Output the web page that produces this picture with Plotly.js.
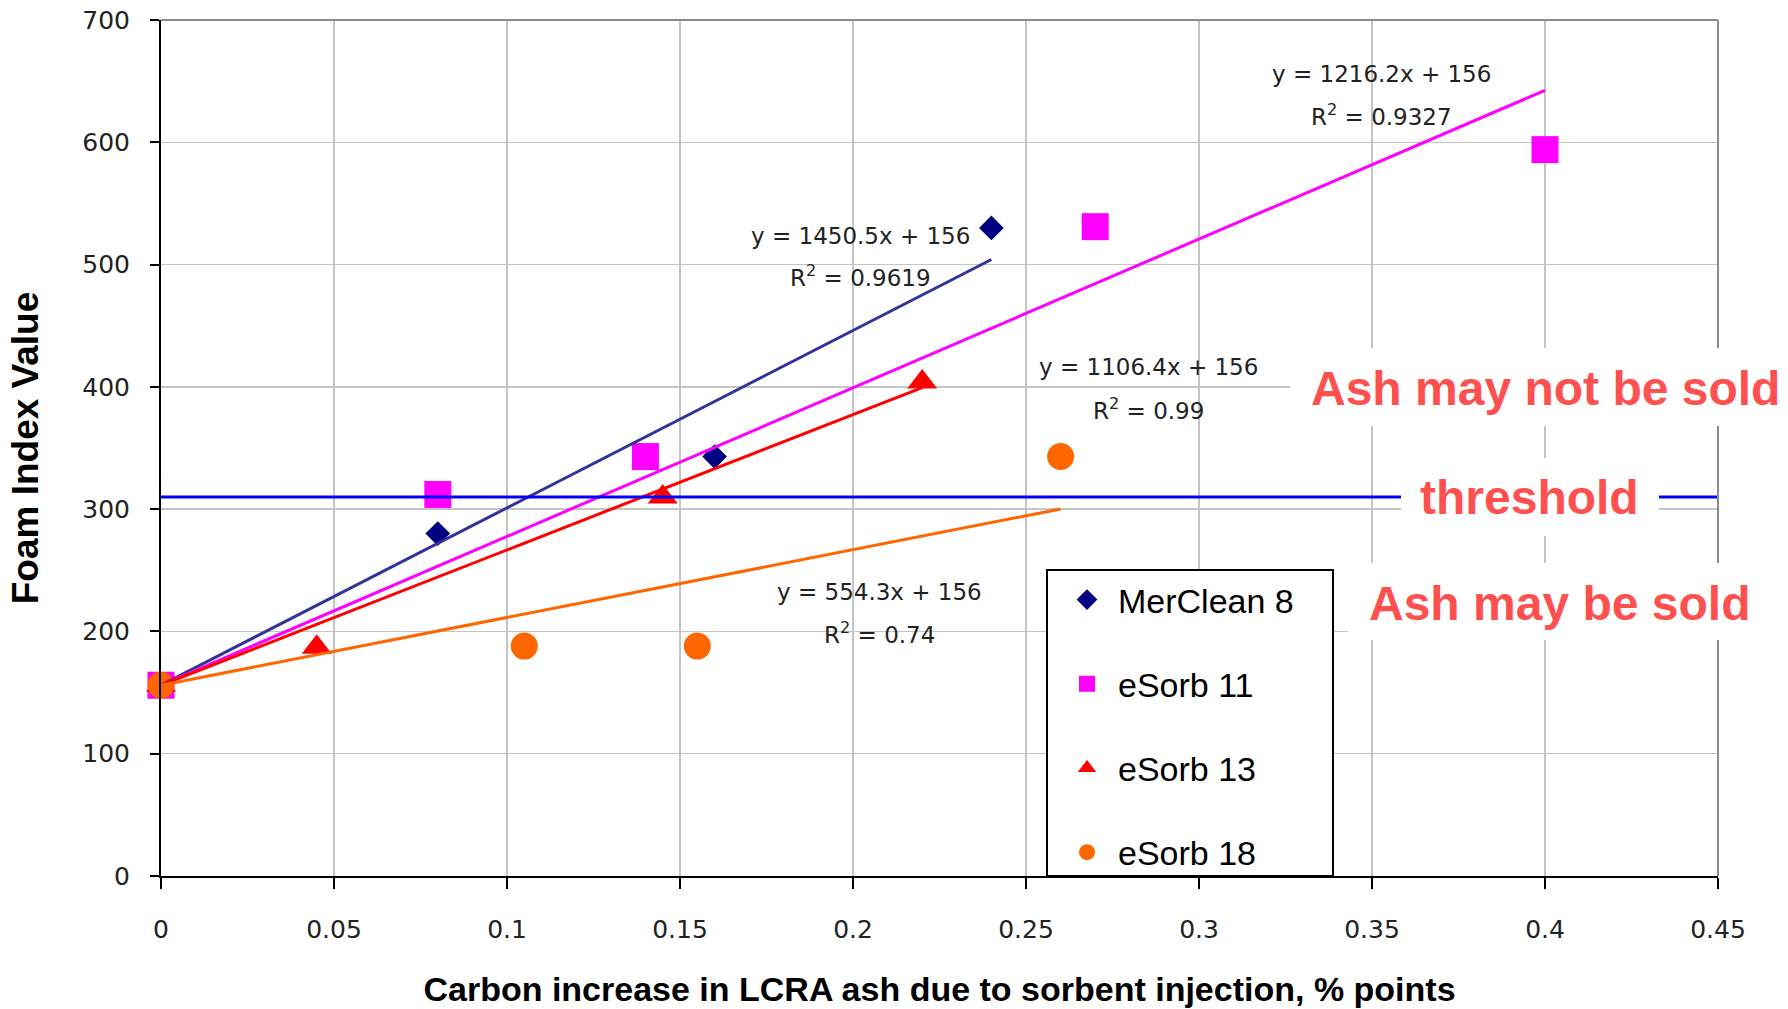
<!DOCTYPE html>
<html><head><meta charset="utf-8">
<script src="https://cdn.plot.ly/plotly-3.0.1.min.js"></script>
<style>html,body{margin:0;padding:0;background:#fff;} #chart{width:1788px;height:1009px;}</style>
</head><body><div id="chart"></div>
<script>
// ---- data ----
const seriesNames = ['MerClean 8', 'eSorb 11', 'eSorb 13', 'eSorb 18'];
const merCleanX = [0, 0.08, 0.16, 0.24];
const merCleanY = [156, 280, 343, 530];
const eSorb11X = [0, 0.08, 0.14, 0.27, 0.40];
const eSorb11Y = [156, 312, 343, 531, 594];
const eSorb13X = [0, 0.045, 0.145, 0.22];
const eSorb13Y = [156, 187, 310, 404];
const eSorb18X = [0, 0.105, 0.155, 0.26];
const eSorb18Y = [156, 188, 188, 343];
// linear trendlines (as printed on the chart)
const trendSlope = [1450.5, 1216.2, 1106.4, 554.3];
const trendIntercept = [156, 156, 156, 156];
const trendR2 = ['0.9619', '0.9327', '0.99', '0.74'];
const trendXStart = [0, 0, 0, 0];
const trendXEnd = [0.24, 0.40, 0.22, 0.26];
// threshold
const thresholdX = [0, 0.45];
const thresholdY = [310, 310];
const xTicks = [0, 0.05, 0.1, 0.15, 0.2, 0.25, 0.3, 0.35, 0.4, 0.45];
const yTicks = [0, 100, 200, 300, 400, 500, 600, 700];

// ---- styles ----
const markerColors = ['#000080', '#FF00FF', '#FF0000', '#FF6600'];
const lineColors = ['#333399', '#FF00FF', '#FF0000', '#FF6600'];
const symbols = ['diamond', 'square', 'triangle-up', 'circle'];
const sizes = [19, 27, 26, 27];
const seriesX = [merCleanX, eSorb11X, eSorb13X, eSorb18X];
const seriesY = [merCleanY, eSorb11Y, eSorb13Y, eSorb18Y];

const traces = [];
for (let i = 0; i < 4; i++) {
  traces.push({
    type: 'scatter', mode: 'markers', name: seriesNames[i],
    x: seriesX[i], y: seriesY[i], legendgroup: 'g' + i,
    marker: {symbol: symbols[i], size: sizes[i], color: markerColors[i], line: {width: 0}},
    cliponaxis: false, hoverinfo: 'x+y'
  });
}
for (let i = 0; i < 4; i++) {
  const xs = [trendXStart[i], trendXEnd[i]];
  traces.push({
    type: 'scatter', mode: 'lines', showlegend: false, legendgroup: 'g' + i,
    x: xs, y: xs.map(v => trendSlope[i] * v + trendIntercept[i]),
    line: {color: lineColors[i], width: 3}, hoverinfo: 'skip'
  });
}
traces.push({
  type: 'scatter', mode: 'lines', showlegend: false, legendgroup: 'thr',
  x: thresholdX, y: thresholdY, line: {color: '#0000FF', width: 3}, hoverinfo: 'skip'
});

// equation labels
const eqPos = [[0.2023, 523, 491], [0.3528, 656, 622], [0.2855, 416, 382], [0.2078, 232.5, 199]];
const annotations = [];
const eqFont = {family: 'DejaVu Sans', size: 23, color: '#222'};
for (let i = 0; i < 4; i++) {
  annotations.push({xref: 'x', yref: 'y', x: eqPos[i][0], y: eqPos[i][1], showarrow: false,
    xanchor: 'center', yanchor: 'middle',
    text: 'y = ' + trendSlope[i] + 'x + ' + trendIntercept[i], font: eqFont});
  annotations.push({xref: 'x', yref: 'y', x: eqPos[i][0], y: eqPos[i][2], showarrow: false,
    xanchor: 'center', yanchor: 'middle',
    text: 'R<sup>2</sup> = ' + trendR2[i], font: eqFont});
}
const redFont = {family: 'Liberation Sans, Arial, sans-serif', size: 48, color: '#FF5050', weight: 'bold'};
// pixel helpers for paper coords
const L = 161, R = 1718, T = 20, B = 876;
const px = v => (v - L) / (R - L);
const py = v => (B - v) / (B - T);
annotations.push({xref: 'paper', yref: 'paper', x: px(1545), y: py(388), showarrow: false,
  xanchor: 'center', yanchor: 'middle', text: '<b>Ash may not be sold</b>', font: redFont});
annotations.push({xref: 'paper', yref: 'paper', x: px(1529), y: py(498), showarrow: false,
  xanchor: 'center', yanchor: 'middle', text: '<b>threshold</b>', font: redFont});
annotations.push({xref: 'paper', yref: 'paper', x: px(1559), y: py(603), showarrow: false,
  xanchor: 'center', yanchor: 'middle', text: '<b>Ash may be sold</b>', font: redFont});

const shapes = [
  // top and right plot border
  {type: 'line', xref: 'paper', yref: 'paper', x0: 0, x1: 1, y0: 1, y1: 1, line: {color: '#8c8c8c', width: 2}, layer: 'above'},
  {type: 'line', xref: 'paper', yref: 'paper', x0: 1, x1: 1, y0: 0, y1: 1, line: {color: '#8c8c8c', width: 2}, layer: 'above'},
  // white boxes behind the red notes
  {type: 'rect', xref: 'paper', yref: 'paper', x0: px(1290), x1: px(1800), y0: py(426), y1: py(348), fillcolor: '#fff', line: {width: 0}, layer: 'above'},
  {type: 'rect', xref: 'paper', yref: 'paper', x0: px(1401), x1: px(1659), y0: py(536), y1: py(458), fillcolor: '#fff', line: {width: 0}, layer: 'above'},
  {type: 'rect', xref: 'paper', yref: 'paper', x0: px(1348), x1: px(1800), y0: py(640), y1: py(563), fillcolor: '#fff', line: {width: 0}, layer: 'above'},
  // legend frame
  {type: 'rect', xref: 'paper', yref: 'paper', x0: px(1047), x1: px(1333), y0: py(876), y1: py(570), fillcolor: '#fff', line: {color: '#000', width: 2}, layer: 'above'}
];

const tickFont = {family: 'DejaVu Sans', size: 25, color: '#222'};
const layout = {
  width: 1788, height: 1009,
  margin: {l: L, r: 1788 - R, t: T, b: 1009 - B, pad: 0},
  paper_bgcolor: '#fff', plot_bgcolor: '#fff',
  showlegend: true,
  legend: {x: px(1056), y: py(571), xanchor: 'left', yanchor: 'top', bgcolor: 'rgba(0,0,0,0)',
    borderwidth: 0, traceorder: 'grouped', tracegroupgap: 37, itemwidth: 52,
    font: {family: 'Liberation Sans, Arial, sans-serif', size: 34, color: '#000'}},
  xaxis: {range: [0, 0.45], tickvals: xTicks, ticktext: xTicks.map(String), showgrid: true, gridcolor: '#c4c4c4', gridwidth: 1.5,
    zeroline: false, showline: true, linecolor: '#000', linewidth: 2, ticks: 'outside', ticklen: 11, tickcolor: '#000', tickwidth: 2,
    tickfont: tickFont, ticklabelstandoff: 19, automargin: false,
    title: {text: '<b>Carbon increase in LCRA ash due to sorbent injection, % points</b>', standoff: 34,
      font: {family: 'Liberation Sans, Arial, sans-serif', size: 34, color: '#000'}}},
  yaxis: {range: [0, 700], tickvals: yTicks, ticktext: yTicks.map(String), showgrid: true, gridcolor: '#c4c4c4', gridwidth: 1.5,
    zeroline: false, showline: true, linecolor: '#000', linewidth: 2, ticks: 'outside', ticklen: 9, tickcolor: '#000', tickwidth: 2,
    tickfont: tickFont, ticklabelstandoff: 15, automargin: false,
    title: {text: '<b>Foam Index Value</b>', standoff: 32,
      font: {family: 'Liberation Sans, Arial, sans-serif', size: 37, color: '#000'}}},
  annotations: annotations,
  shapes: shapes
};
Plotly.newPlot('chart', traces, layout, {displayModeBar: false, staticPlot: true});
</script></body></html>
